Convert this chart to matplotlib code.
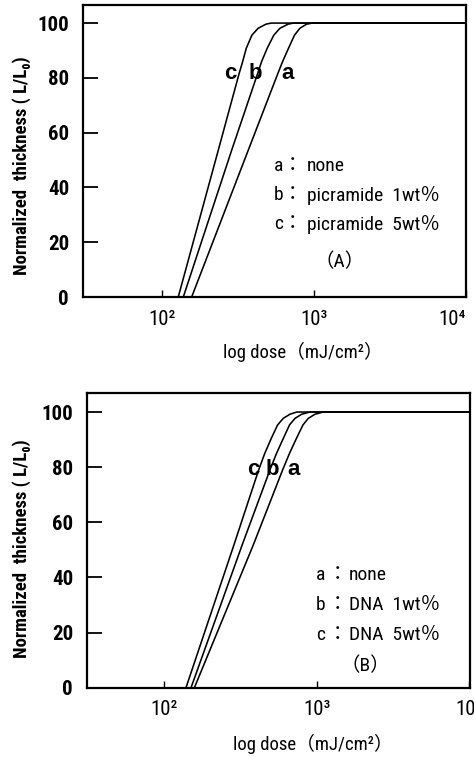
import matplotlib
matplotlib.use("Agg")
import matplotlib.pyplot as plt

FONTS = ['Roboto Condensed', 'Liberation Sans', 'DejaVu Sans', 'Noto Sans CJK JP']
plt.rcParams['font.family'] = FONTS

# ---------------- data ----------------
xticks = [100, 1000, 10000]
xtick_labels = ['10²', '10³', '10⁴']
yticks = [0, 20, 40, 60, 80, 100]

# Panel A (picramide)
A_c_dose = [128.5, 235.5, 323.6, 338.8, 359.7, 391.7, 430.5, 484.2, 524.8, 10000]
A_c_thk = [0, 53.6, 81.8, 85.5, 90.8, 95.6, 98.1, 99.6, 100, 100]
A_b_dose = [138.7, 288.4, 428.5, 453.9, 495.5, 545.8, 598.4, 676.1, 732.8, 10000]
A_b_thk = [0, 53.6, 81.8, 86.0, 91.0, 95.6, 98.1, 99.6, 100, 100]
A_a_dose = [157.4, 370.7, 582.1, 623.7, 683.9, 746.4, 809.1, 895.4, 977.2, 10000]
A_a_thk = [0, 53.6, 81.8, 86.0, 91.0, 95.6, 98.1, 99.6, 100, 100]
A_legend = [('a', 'none'), ('b', 'picramide  1wt％'), ('c', 'picramide  5wt％')]
A_tag = '（A）'

# Panel B (DNA)
B_c_dose = [139.3, 287.1, 416.9, 457.1, 504.7, 554.6, 603.9, 668.3, 741.3, 10000]
B_c_thk = [0, 51.8, 79.0, 85.0, 90.5, 95.3, 97.7, 99.2, 100, 100]
B_b_dose = [150.3, 325.1, 494.3, 545.8, 605.3, 663.7, 721.1, 798.0, 903.6, 10000]
B_b_thk = [0, 51.8, 79.0, 85.0, 90.5, 95.3, 97.7, 99.2, 100, 100]
B_a_dose = [158.1, 384.6, 598.4, 663.7, 737.9, 812.8, 881.0, 975.0, 1104.1, 10000]
B_a_thk = [0, 51.8, 79.0, 85.0, 90.5, 95.3, 97.7, 99.2, 100, 100]
B_legend = [('a', 'none'), ('b', 'DNA  1wt％'), ('c', 'DNA  5wt％')]
B_tag = '（B）'

ylabel = 'Normalized  thickness ( L/L₀)'
xlabel = 'log dose（mJ/cm²）'

# ---------------- layout ----------------
W, H = 474, 757
fig = plt.figure(figsize=(W / 100, H / 100), dpi=100)
fig.patch.set_facecolor('white')


def setup(ax, xlim, ylim, last_right):
    ax.set_xscale('log')
    ax.set_xlim(*xlim)
    ax.set_ylim(*ylim)
    ax.set_xticks(xticks)
    ax.set_xticklabels(xtick_labels, fontsize=15)
    ax.xaxis.set_minor_locator(matplotlib.ticker.NullLocator())
    ax.set_yticks(yticks)
    ax.set_yticklabels([str(v) for v in yticks], fontsize=15, fontweight='bold')
    ax.tick_params(axis='y', direction='in', length=11, width=1.3, pad=10)
    ax.tick_params(axis='x', direction='in', length=5, width=1.0, pad=9)
    if last_right:
        ax.get_xticklabels()[-1].set_horizontalalignment('right')
    for s in ax.spines.values():
        s.set_linewidth(1.6)
        s.set_color('black')


def curves(ax, series):
    for d, t in series:
        ax.plot(d, t, color='black', lw=1.15, solid_capstyle='butt',
                solid_joinstyle='round', clip_on=True)


def legend(ax, rows, xl, xc, xt, ys, tag, tagpos):
    for (letter, txt), y in zip(rows, ys):
        ax.text(xl, y, letter, transform=ax.transAxes, ha='center', va='center', fontsize=14)
        ax.text(xc, y, '：', transform=ax.transAxes, ha='center', va='center', fontsize=14)
        ax.text(xt, y, txt, transform=ax.transAxes, ha='left', va='center', fontsize=14)
    ax.text(tagpos[0], tagpos[1], tag, transform=ax.transAxes, ha='center', va='center', fontsize=14)


# Panel A
axA = fig.add_axes([83 / W, 1 - 297 / H, 383 / W, 292 / H])
setup(axA, (30.4, 10000), (0, 106.6), True)
curves(axA, [(A_a_dose, A_a_thk), (A_b_dose, A_b_thk), (A_c_dose, A_c_thk)])
for lab, xp in zip(['c', 'b', 'a'], [0.384, 0.449, 0.535]):
    axA.text(xp, 0.767, lab, transform=axA.transAxes, ha='center', va='center',
             fontsize=16, fontweight='bold', family=['Liberation Sans', 'DejaVu Sans'])
legend(axA, A_legend, 0.510, 0.548, 0.585, [0.449, 0.349, 0.25], A_tag, (0.671, 0.120))

# Panel B
axB = fig.add_axes([87 / W, 1 - 687.7 / H, 383 / W, 294.7 / H])
setup(axB, (31.3, 10100), (0, 106.9), False)
curves(axB, [(B_a_dose, B_a_thk), (B_b_dose, B_b_thk), (B_c_dose, B_c_thk)])
for lab, xp in zip(['c', 'b', 'a'], [0.433, 0.483, 0.540]):
    axB.text(xp, 0.739, lab, transform=axB.transAxes, ha='center', va='center',
             fontsize=16, fontweight='bold', family=['Liberation Sans', 'DejaVu Sans'])
legend(axB, B_legend, 0.611, 0.655, 0.684, [0.382, 0.281, 0.179], B_tag, (0.726, 0.074))

# axis titles
fig.text(22 / W, 1 - 165.5 / H, ylabel, rotation=90, ha='center', va='center',
         fontsize=13.5, fontweight='bold')
fig.text(22 / W, 1 - 549 / H, ylabel, rotation=90, ha='center', va='center',
         fontsize=13.5, fontweight='bold')
fig.text(223 / W, 1 - 352 / H, xlabel, ha='left', va='center', fontsize=13.5)
fig.text(233 / W, 1 - 744 / H, xlabel, ha='left', va='center', fontsize=13.5)

fig.savefig('out.png', dpi=100, facecolor='white')
